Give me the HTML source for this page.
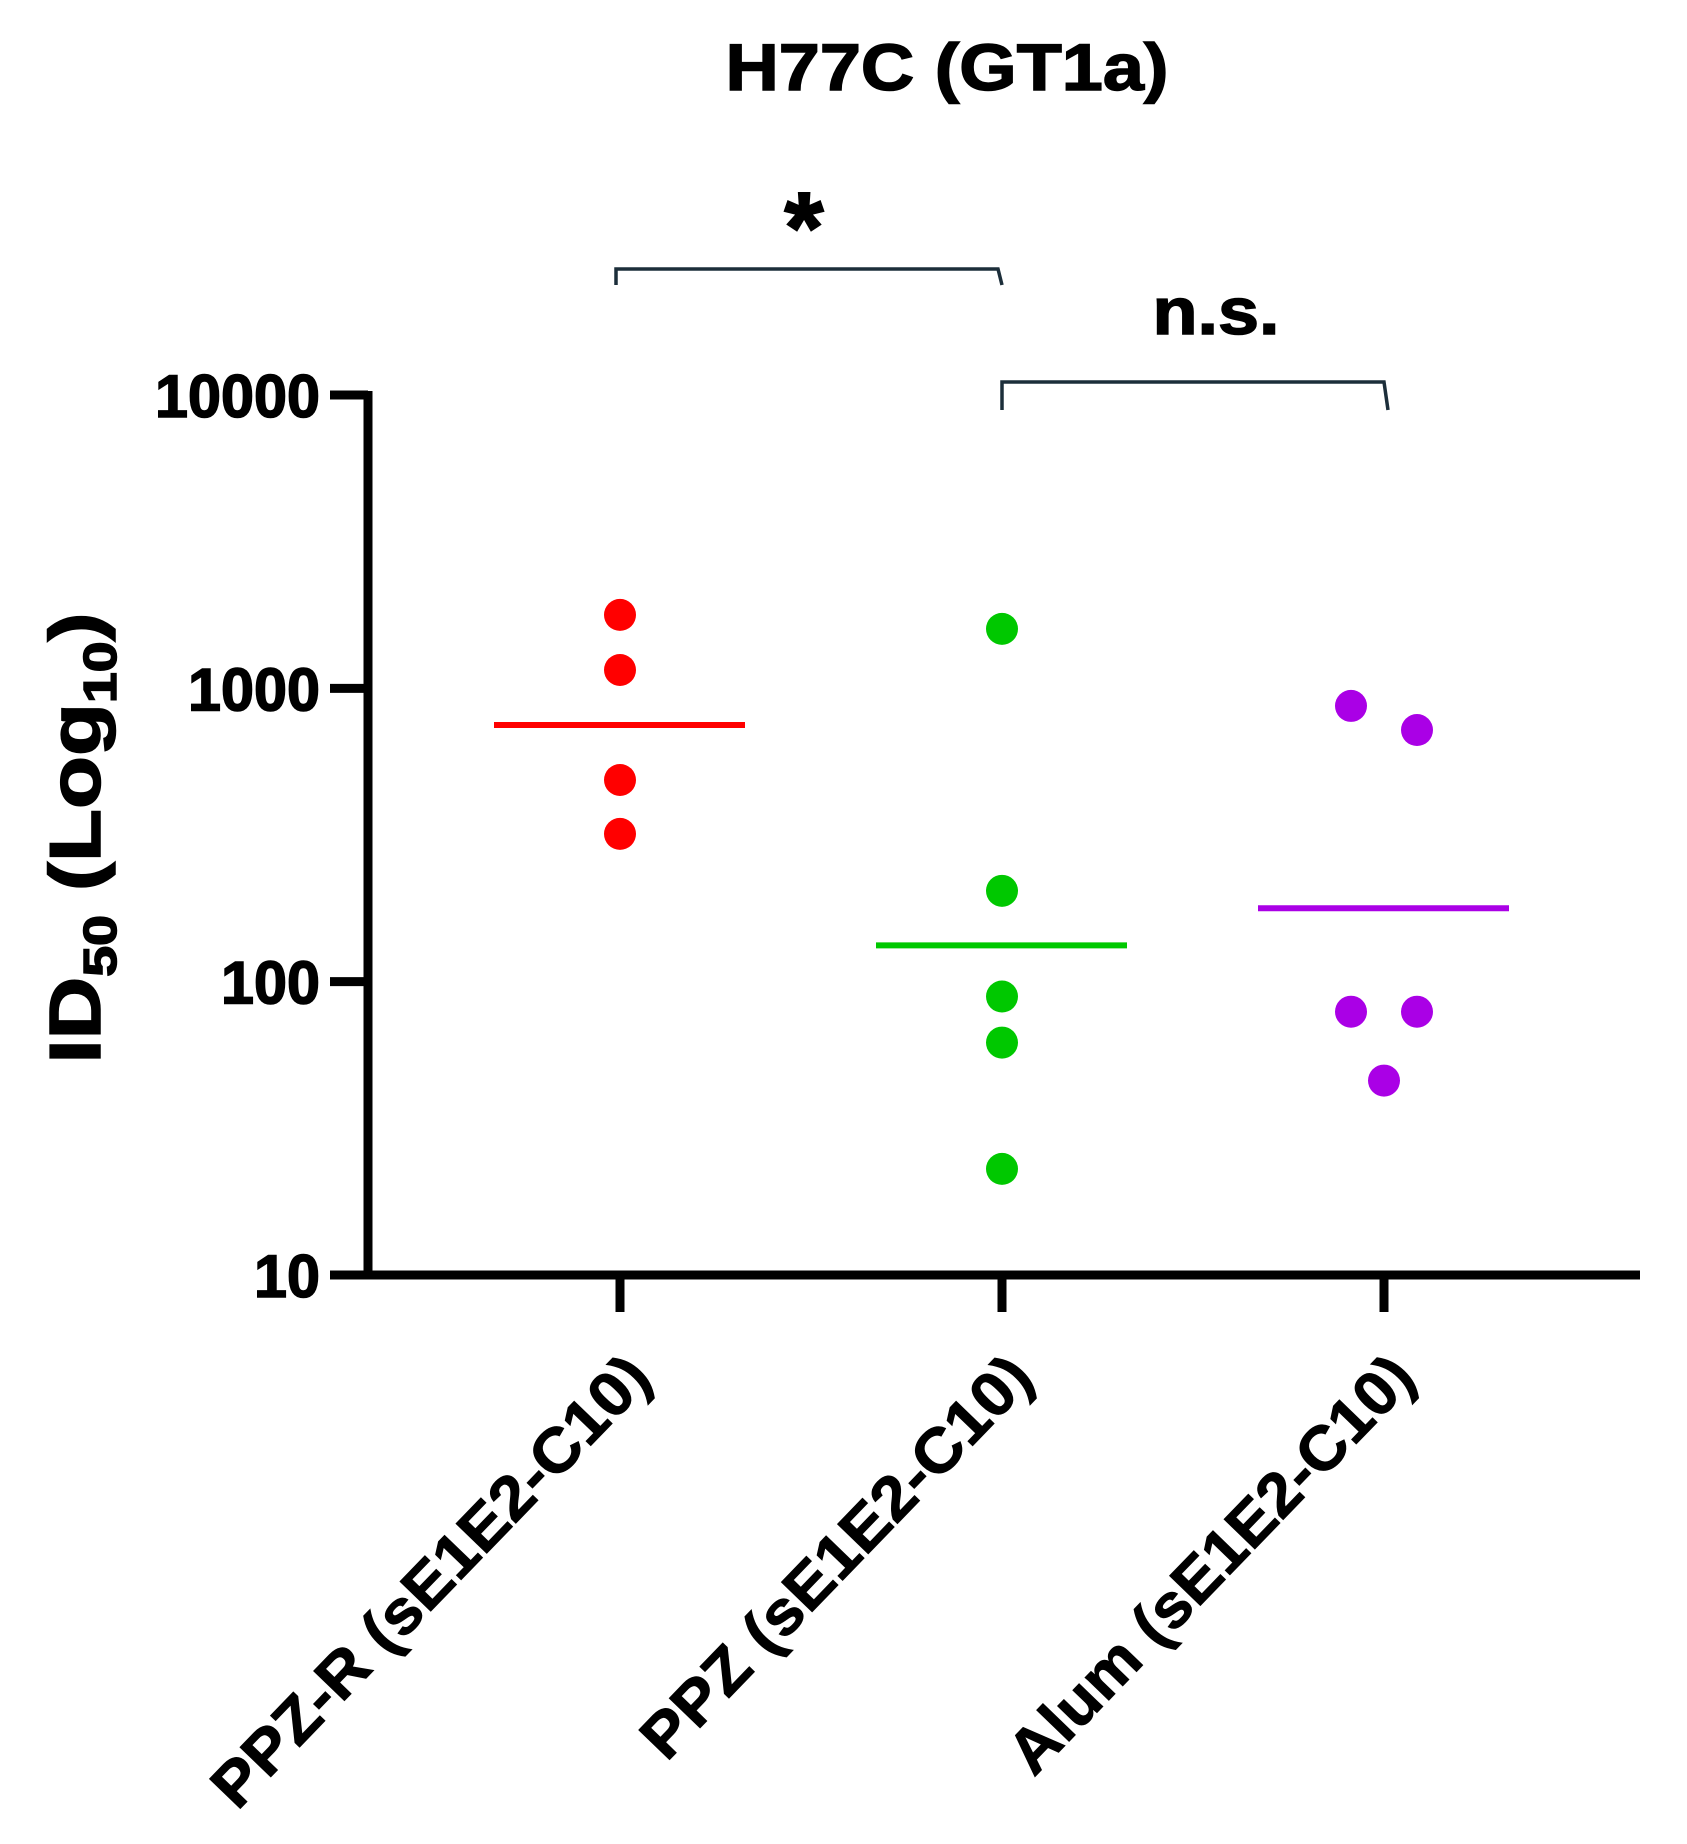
<!DOCTYPE html>
<html><head><meta charset="utf-8"><style>
html,body{margin:0;padding:0;background:#fff;}
svg{display:block;font-family:"Liberation Sans",Arial,sans-serif;font-weight:bold;}
</style></head><body>
<svg id="chart" width="1687" height="1844" viewBox="0 0 1687 1844">
<text x="947" y="90" text-anchor="middle" font-size="66" textLength="443" lengthAdjust="spacingAndGlyphs" stroke="#000" stroke-width="1.5">H77C (GT1a)</text>
<g id="axes"></g>
<g id="marks"></g>
<g>
<path d="M616,285 L616,269 L998,269 L1002,285" fill="none" stroke="#1c2e3a" stroke-width="3.5"/>
<text x="804" y="262" text-anchor="middle" font-size="100" stroke="#000" stroke-width="2">*</text>
</g>
<g>
<path d="M1002,410 L1002,382 L1384,382 L1388,410" fill="none" stroke="#1c2e3a" stroke-width="3.5"/>
<text x="1216" y="334" text-anchor="middle" font-size="66" textLength="127" lengthAdjust="spacingAndGlyphs" stroke="#000" stroke-width="1.5">n.s.</text>
</g>
<text transform="translate(100,838) rotate(-90)" text-anchor="middle" font-size="72" textLength="451" lengthAdjust="spacingAndGlyphs" stroke="#000" stroke-width="1.5">ID<tspan font-size="46" dy="16">50</tspan><tspan dy="-16"> (Log</tspan><tspan font-size="46" dy="16">10</tspan><tspan dy="-16">)</tspan></text>
</svg>
<script>
const categories = ["PPZ-R (sE1E2-C10)", "PPZ (sE1E2-C10)", "Alum (sE1E2-C10)"];
const colors = ["#ff0000", "#00c800", "#aa00e6"];
const redValues = [1780, 1155, 487, 319];
const greenValues = [1595, 204, 89, 62, 23];
const purpleValues = [871, 721, 79, 79, 46];
const purpleOffsets = [-1, 1, -1, 1, 0];
const means = [750, 133, 178];
const yTicks = [10, 100, 1000, 10000];
const yTickLabels = ["10", "100", "1000", "10000"];

const NS = "http://www.w3.org/2000/svg";
const axisX = 368, yTop = 395, yBot = 1275;
const labelLens = [600, 532, 553];
function y(v){ return yBot - (Math.log10(v) - 1) * (yBot - yTop) / 3; }
function x(i){ return 620 + i * 382; }
function mk(tag, attrs, parent){ const e = document.createElementNS(NS, tag); for (const k in attrs) e.setAttribute(k, attrs[k]); parent.appendChild(e); return e; }
const axes = document.getElementById("axes"), marks = document.getElementById("marks");

let yl = mk("line", {x1: axisX, y1: yTop - 4, x2: axisX, y2: yBot + 4, stroke: "#000", "stroke-width": 9}, axes);


let xl = mk("line", {x1: axisX - 4, y1: yBot, x2: 1640, y2: yBot, stroke: "#000", "stroke-width": 9}, axes);



yTicks.forEach((t, i) => {
  const tk = mk("line", {x1: 330, y1: y(t), x2: axisX, y2: y(t), stroke: "#000", "stroke-width": 9}, axes);
  
  
  const tl = mk("text", {x: 320, y: y(t) + 22, "text-anchor": "end", "font-size": 60, textLength: yTickLabels[i].length * 33, lengthAdjust: "spacingAndGlyphs", stroke: "#000", "stroke-width": 1.5}, axes);
  tl.textContent = yTickLabels[i];
  
  
});

categories.forEach((c, i) => {
  const tk = mk("line", {x1: x(i), y1: yBot, x2: x(i), y2: 1312, stroke: "#000", "stroke-width": 9}, axes);
  
  
  const tl = mk("text", {transform: "translate(" + (x(i) + 34) + ",1380) rotate(-46)", "text-anchor": "end", "font-size": 62, textLength: labelLens[i], lengthAdjust: "spacingAndGlyphs", stroke: "#000", "stroke-width": 1}, axes);
  tl.textContent = c;
  
  
});

const series = [redValues, greenValues, purpleValues];
series.forEach((vals, i) => {
  vals.forEach((v, j) => {
    const off = i === 2 ? purpleOffsets[j] * 33 : 0;
    const d = mk("circle", {cx: x(i) + off, cy: y(v), r: 16, fill: colors[i]}, marks);
    
    
  });
  const m = mk("line", {x1: x(i) - 126, x2: x(i) + 125, y1: y(means[i]), y2: y(means[i]), stroke: colors[i], "stroke-width": 6}, marks);
  
  
});
</script>
</body></html>
